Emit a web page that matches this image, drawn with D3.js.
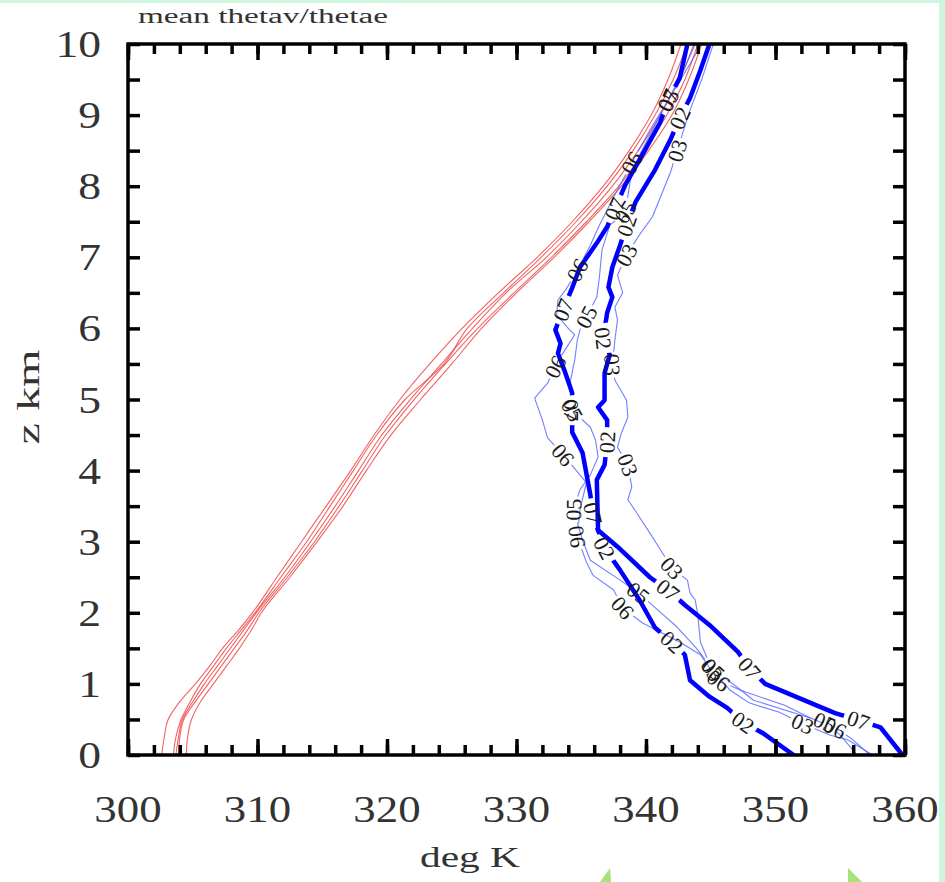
<!DOCTYPE html>
<html>
<head>
<meta charset="utf-8">
<script src="https://cdn.jsdelivr.net/npm/d3@7"></script>
<style>
  body { margin: 0; background: #fff; }
  svg { display: block; }
</style>
</head>
<body>
<div id="chart"></div>
<script>
// ---- data ----
const xTickLabels = [300, 310, 320, 330, 340, 350, 360];
const yTickLabels = [0, 1, 2, 3, 4, 5, 6, 7, 8, 9, 10];

// thetav profiles (red), all on the same heights
const zGrid = [0, 0.25, 0.5, 0.75, 1, 1.25, 1.5, 1.75, 2, 2.5, 3, 3.5, 4, 4.5, 5, 5.5, 6, 6.5, 7, 7.5, 8, 8.5, 9, 9.5, 10];
const thetavA = [302.6, 302.8, 303.1, 304.0, 305.2, 306.3, 307.3, 308.5, 309.6, 311.5, 313.4, 315.3, 317.2, 319.0, 321.0, 323.3, 325.8, 328.6, 331.6, 334.3, 336.7, 338.7, 340.4, 341.7, 342.7];
const thetavB = [303.5, 303.7, 304.1, 304.8, 305.6, 306.6, 307.6, 308.7, 309.8, 311.8, 313.8, 315.6, 317.4, 319.2, 321.4, 324.4, 326.2, 329.0, 331.9, 334.6, 337.0, 339.0, 340.7, 342.1, 343.2];
const thetavC = [303.7, 303.9, 304.2, 305.0, 305.9, 306.9, 307.9, 308.9, 309.9, 312.1, 314.1, 316.0, 317.8, 319.6, 321.8, 324.2, 326.6, 329.2, 332.3, 335.0, 337.4, 339.4, 341.1, 342.6, 343.7];
const thetavD = [303.9, 304.0, 304.3, 305.2, 306.2, 307.2, 308.2, 309.2, 310.1, 312.3, 314.4, 316.3, 318.1, 319.9, 322.1, 324.5, 327.0, 329.8, 332.7, 335.4, 337.9, 339.9, 341.6, 343.0, 344.0];
const thetavE = [304.5, 304.6, 304.9, 305.6, 306.6, 307.6, 308.6, 309.5, 310.3, 312.5, 314.6, 316.6, 318.4, 320.3, 322.6, 325.0, 327.3, 330.0, 332.9, 335.6, 338.1, 340.2, 342.0, 343.3, 344.3];

// thetae profiles (blue), each with its own heights and label heights
const z02 = [10, 9.63, 9.24, 8.96, 8.66, 8.23, 7.78, 7.45, 7.17, 6.86, 6.58, 6.44, 6.22, 5.86, 5.63, 5.37, 4.99, 4.89, 4.71, 4.4, 4.08, 3.87, 3.16, 2.91, 2.6, 2.18, 1.79, 1.59, 1.41, 1.05, 0.82, 0.66, 0.46, 0.31, 0];
const thetae02 = [344.9, 344.2, 343.4, 342.6, 341.9, 340.7, 339.2, 338.5, 338.0, 337.4, 337.1, 337.4, 337.0, 336.7, 337.2, 336.8, 336.8, 336.3, 337.0, 337.0, 336.8, 336.2, 336.3, 336.8, 338.0, 339.5, 340.7, 342.0, 343.0, 343.4, 344.9, 346.3, 347.5, 349.0, 351.4];
const labels02 = [8.96, 7.45, 5.86, 4.4, 2.91, 1.59, 0.46];

const z03 = [10, 9.5, 9.07, 8.5, 8.2, 7.57, 7.29, 7.03, 6.75, 6.5, 6.3, 6.12, 5.84, 5.49, 5.27, 4.99, 4.75, 4.53, 4.33, 4.08, 3.77, 3.59, 3.4, 3.12, 2.95, 2.63, 2.46, 2.28, 2.18, 1.97, 1.59, 1.2, 0.91, 0.73, 0.6, 0.44, 0.28, 0.21, 0];
const thetae03 = [345.2, 344.3, 343.4, 342.4, 341.9, 340.5, 339.4, 338.5, 337.8, 338.2, 337.6, 337.8, 337.6, 337.4, 337.6, 338.5, 338.6, 338.1, 337.8, 338.6, 338.9, 338.6, 339.3, 340.3, 340.9, 342.0, 343.2, 343.4, 343.8, 344.0, 344.2, 345.1, 346.5, 348.0, 350.3, 352.1, 354.2, 355.6, 357.5];
const labels03 = [8.5, 7.03, 5.49, 4.08, 2.63, 1.2, 0.44];

const z05 = [10, 9.6, 9.21, 8.86, 8.44, 8.09, 7.64, 7.45, 7.1, 6.72, 6.44, 6.16, 5.98, 5.84, 5.56, 5.2, 4.85, 4.61, 4.43, 4.19, 3.94, 3.73, 3.45, 3.02, 2.74, 2.46, 2.28, 2.01, 1.8, 1.5, 1.31, 1.2, 0.96, 0.77, 0.56, 0.46, 0.28, 0];
const thetae05 = [344.3, 343.0, 341.7, 340.7, 339.5, 338.8, 338.4, 337.2, 336.6, 336.4, 336.2, 335.4, 334.9, 334.7, 334.5, 334.1, 334.3, 335.7, 336.1, 336.3, 335.7, 334.9, 334.4, 335.1, 335.7, 338.0, 339.4, 341.1, 342.4, 343.9, 344.7, 345.2, 347.0, 348.3, 352.0, 353.8, 355.0, 356.3];
const labels05 = [9.21, 7.64, 6.16, 4.85, 3.45, 2.28, 1.2, 0.46];

const z06 = [10, 9.63, 9.21, 8.79, 8.33, 7.88, 7.45, 7.17, 6.82, 6.57, 6.4, 6.19, 5.98, 5.91, 5.74, 5.6, 5.46, 5.23, 5.02, 4.71, 4.46, 4.22, 4.05, 3.83, 3.45, 3.07, 2.71, 2.53, 2.32, 2.07, 1.86, 1.59, 1.41, 1.05, 0.91, 0.7, 0.52, 0.38, 0.24, 0];
const thetae06 = [343.8, 342.9, 341.7, 340.3, 338.9, 337.6, 336.4, 335.7, 334.7, 333.9, 333.2, 333.1, 334.1, 334.5, 333.9, 333.4, 333.0, 332.4, 331.4, 332.0, 332.4, 333.6, 334.4, 335.4, 334.9, 334.7, 335.4, 335.9, 337.5, 338.2, 339.7, 342.6, 344.2, 345.6, 347.3, 350.7, 352.7, 354.6, 355.8, 357.3];
const labels06 = [8.33, 6.82, 5.46, 4.22, 3.07, 2.07, 1.05, 0.38];

const z07 = [10, 9.52, 9.21, 8.9, 8.5, 8.02, 7.68, 7.43, 7.2, 6.86, 6.57, 6.26, 5.98, 5.79, 5.65, 5.41, 5.09, 4.85, 4.54, 4.25, 3.66, 3.4, 3.16, 2.93, 2.5, 2.32, 2.11, 1.83, 1.45, 1.22, 1.0, 0.59, 0.49, 0.39, 0];
const thetae07 = [343.2, 342.6, 341.7, 341.1, 339.9, 338.4, 337.6, 337.0, 336.2, 334.9, 334.3, 333.6, 333.0, 333.4, 333.2, 333.7, 334.3, 334.3, 334.3, 335.1, 335.7, 335.9, 336.3, 337.8, 340.3, 341.7, 343.0, 344.9, 347.1, 348.0, 349.2, 354.6, 356.4, 358.1, 359.8];
const labels07 = [9.21, 7.68, 6.26, 4.85, 3.4, 2.32, 1.22, 0.49];

// ---- layout ----
const W = 945, H = 882;
const x = d3.scaleLinear().domain([300, 360]).range([128, 905]);
const y = d3.scaleLinear().domain([0, 10]).range([755, 44]);
const serif = "'Liberation Serif', 'DejaVu Serif', serif";
const textColor = "#333";

const redRuns = [thetavA, thetavB, thetavC, thetavD, thetavE];
const blueRuns = [
  { name: "03", z: z03, theta: thetae03, labels: labels03, thick: false },
  { name: "05", z: z05, theta: thetae05, labels: labels05, thick: false },
  { name: "06", z: z06, theta: thetae06, labels: labels06, thick: false },
  { name: "02", z: z02, theta: thetae02, labels: labels02, thick: true },
  { name: "07", z: z07, theta: thetae07, labels: labels07, thick: true }
];

const svg = d3.select("#chart").append("svg")
  .attr("width", W).attr("height", H);

// screenshot edge decoration
svg.append("rect").attr("x", 0).attr("y", 0).attr("width", W).attr("height", 3).attr("fill", "#cdf6de");
svg.append("rect").attr("x", 939).attr("y", 0).attr("width", 6).attr("height", H).attr("fill", "#cdf6de");
svg.append("path").attr("d", "M600,882 L610,868 L611,882 Z").attr("fill", "#a8e27a");
svg.append("path").attr("d", "M848,868 L862,882 L848,882 Z").attr("fill", "#a8e27a");

const defs = svg.append("defs");
defs.append("clipPath").attr("id", "plotClip")
  .append("rect").attr("x", 128).attr("y", 44).attr("width", 777).attr("height", 711);

const line = d3.line().x(d => x(d[0])).y(d => y(d[1]));
const smoothLine = d3.line().x(d => x(d[0])).y(d => y(d[1])).curve(d3.curveMonotoneY);

// label positions and rotations from each line
blueRuns.forEach(s => {
  const f = d3.scaleLinear().domain(s.z).range(s.theta);
  s.gap = s.thick ? 15 : 13;
  s.marks = s.labels.map(zl => {
    const za = Math.min(10, zl + 0.12), zb = Math.max(0, zl - 0.12);
    const x1 = x(f(za)), y1 = y(za), x2 = x(f(zb)), y2 = y(zb);
    let a = Math.atan2(y2 - y1, x2 - x1) * 180 / Math.PI;
    if (a > 90) a -= 180;
    if (a < -90) a += 180;
    return { px: x(f(zl)), py: y(zl), a: a, text: s.name };
  });
});

blueRuns.forEach((s, i) => {
  const m = defs.append("mask").attr("id", "gap" + i)
    .attr("maskUnits", "userSpaceOnUse")
    .attr("x", 0).attr("y", 0).attr("width", W).attr("height", H);
  m.append("rect").attr("width", W).attr("height", H).attr("fill", "white");
  m.selectAll("rect.g").data(s.marks).join("rect")
    .attr("class", "g")
    .attr("x", -s.gap).attr("y", -9)
    .attr("width", 2 * s.gap).attr("height", 18)
    .attr("fill", "black")
    .attr("transform", d => `translate(${d.px},${d.py}) rotate(${d.a})`);
});

const plot = svg.append("g").attr("clip-path", "url(#plotClip)");

// red thetav lines
plot.selectAll("path.thetav").data(redRuns).join("path")
  .attr("class", "thetav")
  .attr("d", r => smoothLine(d3.zip(r, zGrid)))
  .attr("fill", "none")
  .attr("stroke", "#f04848")
  .attr("stroke-opacity", 0.85)
  .attr("stroke-width", 1.1);

// blue thetae lines, thin first
blueRuns.forEach((s, i) => {
  plot.append("path")
    .attr("d", line(d3.zip(s.theta, s.z)))
    .attr("mask", `url(#gap${i})`)
    .attr("fill", "none")
    .attr("stroke", s.thick ? "#0000ff" : "#4f5fff")
    .attr("stroke-opacity", s.thick ? 1 : 0.8)
    .attr("stroke-width", s.thick ? 4.5 : 1.1)
    .attr("stroke-linecap", "round")
    .attr("stroke-linejoin", "round");
});

// line labels
const allMarks = blueRuns.flatMap(s => s.marks);
svg.append("g").selectAll("text").data(allMarks).join("text")
  .attr("transform", d => `translate(${d.px},${d.py}) rotate(${d.a})`)
  .attr("text-anchor", "middle")
  .attr("dy", "0.35em")
  .attr("font-family", serif)
  .attr("font-size", 22)
  .attr("fill", "#1a1a1a")
  .text(d => d.text);

// ticks (inward) on all four sides
function styleAxis(g) {
  g.select(".domain").remove();
  g.selectAll(".tick line").attr("stroke", "#000").attr("stroke-width", 3.5);
}
const xMinor = d3.range(300, 361, 2);
const xMajor = d3.range(300, 361, 10);
const yMinor = d3.range(0, 10.01, 0.5);

svg.append("g").attr("transform", "translate(0,755)")
  .call(d3.axisBottom(x).tickValues(xMinor).tickSize(-10).tickFormat("")).call(styleAxis);
svg.append("g").attr("transform", "translate(0,755)")
  .call(d3.axisBottom(x).tickValues(xMajor).tickSize(-16).tickFormat("")).call(styleAxis);
svg.append("g").attr("transform", "translate(0,44)")
  .call(d3.axisTop(x).tickValues(xMinor).tickSize(-10).tickFormat("")).call(styleAxis);
svg.append("g").attr("transform", "translate(0,44)")
  .call(d3.axisTop(x).tickValues(xMajor).tickSize(-16).tickFormat("")).call(styleAxis);
svg.append("g").attr("transform", "translate(128,0)")
  .call(d3.axisLeft(y).tickValues(yMinor).tickSize(-12).tickFormat("")).call(styleAxis);
svg.append("g").attr("transform", "translate(905,0)")
  .call(d3.axisRight(y).tickValues(yMinor).tickSize(-12).tickFormat("")).call(styleAxis);

// frame
svg.append("rect")
  .attr("x", 128).attr("y", 44).attr("width", 777).attr("height", 711)
  .attr("fill", "none").attr("stroke", "#000").attr("stroke-width", 3.5);

// tick labels
svg.append("g").selectAll("text").data(xTickLabels).join("text")
  .attr("transform", d => `translate(${x(d)},822) scale(1.15,1)`)
  .attr("text-anchor", "middle")
  .attr("font-family", serif).attr("font-size", 39)
  .attr("fill", textColor)
  .text(d => d);

svg.append("g").selectAll("text").data(yTickLabels).join("text")
  .attr("transform", d => `translate(101,${y(d) + 13}) scale(1.2,1)`)
  .attr("text-anchor", "end")
  .attr("font-family", serif).attr("font-size", 38)
  .attr("fill", textColor)
  .text(d => d);

// axis titles and header
svg.append("text")
  .attr("x", 470).attr("y", 867)
  .attr("text-anchor", "middle")
  .attr("font-family", serif).attr("font-size", 30)
  .attr("textLength", 100).attr("lengthAdjust", "spacingAndGlyphs")
  .attr("fill", textColor)
  .text("deg K");

svg.append("text")
  .attr("transform", "translate(39,397) rotate(-90)")
  .attr("text-anchor", "middle")
  .attr("font-family", serif).attr("font-size", 32)
  .attr("textLength", 95).attr("lengthAdjust", "spacingAndGlyphs")
  .attr("fill", textColor)
  .text("z km");

svg.append("text")
  .attr("x", 138).attr("y", 23)
  .attr("font-family", serif).attr("font-size", 20)
  .attr("textLength", 250).attr("lengthAdjust", "spacingAndGlyphs")
  .attr("fill", textColor)
  .text("mean thetav/thetae");
</script>
</body>
</html>
